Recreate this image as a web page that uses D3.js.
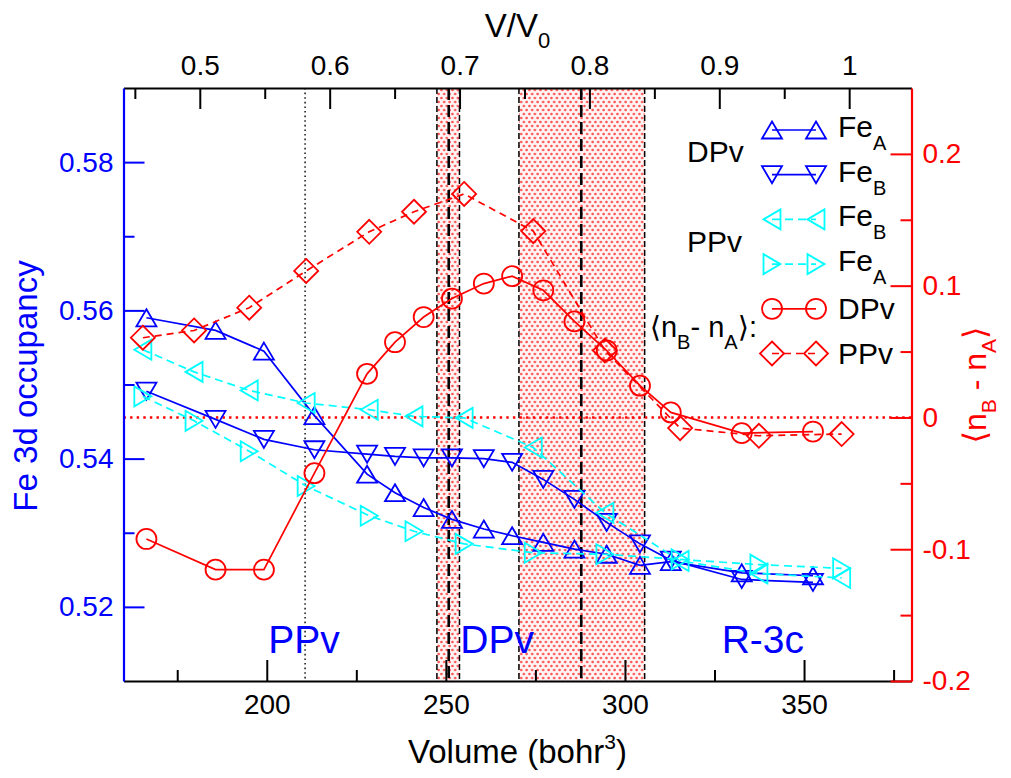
<!DOCTYPE html>
<html><head><meta charset="utf-8">
<script src="https://cdn.jsdelivr.net/npm/d3@7"></script>
<style>
body{margin:0;background:#fff;}
svg text{font-family:"Liberation Sans","DejaVu Sans",Arial,sans-serif;}
</style></head><body>
<svg id="c" width="1011" height="778"></svg>
<script>
// ---------------- data ----------------
const volDPv = [166.4,185.7,199.2,213.3,228.0,235.8,243.8,251.7,260.6,268.5,277.2,285.9,294.9,304.2,312.8,332.6,352.5];
const volPPv = [165.4,179.7,195.1,211.0,228.6,241.1,255.1,274.4,294.4,315.4,337.4,360.5];
const feA_DPv = [0.5590,0.5573,0.5545,0.5458,0.5379,0.5354,0.5334,0.5318,0.5305,0.5296,0.5287,0.5278,0.5271,0.5256,0.5261,0.5246,0.5242];
const feB_DPv = [0.5491,0.5453,0.5426,0.5412,0.5406,0.5403,0.5401,0.5401,0.5400,0.5395,0.5372,0.5345,0.5314,0.5285,0.5263,0.5237,0.5233];
const feB_PPv = [0.5547,0.5517,0.5492,0.5475,0.5466,0.5457,0.5455,0.5415,0.5327,0.5262,0.5245,0.5239];
const feA_PPv = [0.5484,0.5451,0.5410,0.5363,0.5323,0.5302,0.5285,0.5273,0.5271,0.5264,0.5257,0.5252];
const diff_DPv = [-0.0922,-0.1155,-0.1155,-0.0423,0.0331,0.0571,0.0762,0.0902,0.1016,0.1072,0.0965,0.0729,0.0508,0.0241,0.0038,-0.0119,-0.0107];
const diff_PPv = [0.0605,0.0660,0.0833,0.1112,0.1409,0.1561,0.1696,0.1414,0.0508,-0.0081,-0.0139,-0.0126];

const V0 = 362.6;
const xMajor = [200,250,300,350];
const xMinor = [175,225,275,325,375];
const topMajor = [0.5,0.6,0.7,0.8,0.9,1.0];
const topMinor = [0.45,0.55,0.65,0.75,0.85,0.95];
const yLMajor = [0.52,0.54,0.56,0.58];
const yLMinor = [0.53,0.55,0.57];
const yRMajor = [-0.2,-0.1,0,0.1,0.2];
const yRMinor = [-0.15,-0.05,0.05,0.15];

const shadedRegions = [[247.5,253.8],[270.4,305.5]];
const transitionVols = [250.8,287.8];
const ppvDottedVol = 210.7;
const phaseLabels = ["PPv","DPv","R-3c"];
const phaseLabelVols = [210.4,264.3,338.5];

const legendLabels = [["Fe","A"],["Fe","B"],["Fe","B"],["Fe","A"],["DPv",""],["PPv",""]];

// ---------------- setup ----------------
const svg = d3.select("#c");
const L=123.5, R=911.5, T=88, B=681;
const x = d3.scaleLinear().domain([160,380]).range([L,R]);
const xTop = d3.scaleLinear().domain([160/V0,380/V0]).range([L,R]);
const yL = d3.scaleLinear().domain([0.51,0.59]).range([B,T]);
const yR = d3.scaleLinear().domain([-0.2,0.25]).range([B,T]);

const BLUE="#0000ff", CYAN="#00ffff", RED="#ff0000";

const defs = svg.append("defs");
const pat = defs.append("pattern").attr("id","dots").attr("width",5.5).attr("height",8).attr("patternUnits","userSpaceOnUse");
pat.append("rect").attr("width",5.5).attr("height",8).attr("fill","#fff4f4");
pat.append("circle").attr("cx",1.4).attr("cy",2).attr("r",1.25).attr("fill","#ff4a4a");
pat.append("circle").attr("cx",4.15).attr("cy",6).attr("r",1.25).attr("fill","#ff4a4a");

// shaded regions
svg.append("g").selectAll("rect").data(shadedRegions).join("rect")
  .attr("x",d=>x(d[0])).attr("width",d=>x(d[1])-x(d[0]))
  .attr("y",T).attr("height",B-T).attr("fill","url(#dots)");
// boundaries
const bounds = shadedRegions.flat();
svg.append("g").selectAll("line").data(bounds).join("line")
  .attr("x1",d=>x(d)).attr("x2",d=>x(d)).attr("y1",T).attr("y2",B)
  .attr("stroke","#000").attr("stroke-width",1.5).attr("stroke-dasharray","6,3");
svg.append("g").selectAll("line").data(transitionVols).join("line")
  .attr("x1",d=>x(d)).attr("x2",d=>x(d)).attr("y1",T).attr("y2",B)
  .attr("stroke","#000").attr("stroke-width",2.6).attr("stroke-dasharray","12,5");
svg.append("line").attr("x1",x(ppvDottedVol)).attr("x2",x(ppvDottedVol)).attr("y1",T).attr("y2",B)
  .attr("stroke","#222").attr("stroke-width",1.6).attr("stroke-dasharray","1.6,3");
// zero line
svg.append("line").attr("x1",L).attr("x2",R).attr("y1",yR(0)).attr("y2",yR(0))
  .attr("stroke",RED).attr("stroke-width",2.4).attr("stroke-dasharray","2.4,4.2");

// marker shapes
function shape(t){
  switch(t){
    case "up": return "M0,-8.5L10,8.5L-10,8.5Z";
    case "down": return "M0,8.5L10,-8.5L-10,-8.5Z";
    case "left": return "M-8.5,0L8.5,-10L8.5,10Z";
    case "right": return "M8.5,0L-8.5,-10L-8.5,10Z";
    case "circle": return d3.symbol(d3.symbolCircle, Math.PI*100)();
    case "diamond": return "M0,-12L12,0L0,12L-12,0Z";
  }
}

const seriesDefs = [
  {vol:volDPv, vals:feA_DPv, y:yL, color:BLUE, dash:null, marker:"up"},
  {vol:volDPv, vals:feB_DPv, y:yL, color:BLUE, dash:null, marker:"down"},
  {vol:volPPv, vals:feB_PPv, y:yL, color:CYAN, dash:"8,5", marker:"left"},
  {vol:volPPv, vals:feA_PPv, y:yL, color:CYAN, dash:"8,5", marker:"right"},
  {vol:volDPv, vals:diff_DPv, y:yR, color:RED, dash:null, marker:"circle"},
  {vol:volPPv, vals:diff_PPv, y:yR, color:RED, dash:"7,5", marker:"diamond"}
];

const gData = svg.append("g");
seriesDefs.forEach(s=>{
  const pts = s.vol.map((v,i)=>[v,s.vals[i]]);
  const line = d3.line().x(d=>x(d[0])).y(d=>s.y(d[1]));
  gData.append("path").attr("d",line(pts)).attr("fill","none")
    .attr("stroke",s.color).attr("stroke-width",1.7)
    .attr("stroke-dasharray",s.dash);
  gData.append("g").selectAll("path").data(pts).join("path")
    .attr("d",shape(s.marker))
    .attr("transform",d=>`translate(${x(d[0])},${s.y(d[1])})`)
    .attr("fill","none").attr("stroke",s.color).attr("stroke-width",1.8);
});

// ---------------- axes ----------------
function styleAxis(g,color,fs){
  g.select(".domain").attr("stroke",color).attr("stroke-width",2.2);
  g.selectAll(".tick line").attr("stroke",color).attr("stroke-width",2);
  g.selectAll(".tick text").attr("fill",color).attr("font-size",fs)
    .attr("font-family","'Liberation Sans','DejaVu Sans',Arial,sans-serif");
}
function minor(axisFn, scale, vals, tr, color){
  const g = svg.append("g").attr("transform",tr)
    .call(axisFn(scale).tickValues(vals).tickSizeInner(-11).tickSizeOuter(0).tickFormat(""));
  g.select(".domain").remove();
  g.selectAll(".tick line").attr("stroke",color).attr("stroke-width",2);
}
minor(d3.axisBottom, x, xMinor, `translate(0,${B})`, "#000");
minor(d3.axisTop, xTop, topMinor, `translate(0,${T})`, "#000");
minor(d3.axisLeft, yL, yLMinor, `translate(${L},0)`, BLUE);
minor(d3.axisRight, yR, yRMinor, `translate(${R},0)`, RED);

const gB = svg.append("g").attr("transform",`translate(0,${B})`)
  .call(d3.axisBottom(x).tickValues(xMajor).tickSizeInner(-21).tickSizeOuter(0).tickPadding(13).tickFormat(d3.format("d")));
styleAxis(gB,"#000",28);
const gT = svg.append("g").attr("transform",`translate(0,${T})`)
  .call(d3.axisTop(xTop).tickValues(topMajor).tickSizeInner(-21).tickSizeOuter(0).tickPadding(13)
    .tickFormat(d=> Math.abs(d-1)<1e-9 ? "1" : d.toFixed(1)));
styleAxis(gT,"#000",28);
const gL = svg.append("g").attr("transform",`translate(${L},0)`)
  .call(d3.axisLeft(yL).tickValues(yLMajor).tickSizeInner(-21).tickSizeOuter(0).tickPadding(10).tickFormat(d=>d.toFixed(2)));
styleAxis(gL,BLUE,28);
const gR = svg.append("g").attr("transform",`translate(${R},0)`)
  .call(d3.axisRight(yR).tickValues(yRMajor).tickSizeInner(-21).tickSizeOuter(0).tickPadding(11)
    .tickFormat(d=> Math.abs(d)<1e-9 ? "0" : (d<0?"-":"")+Math.abs(d).toFixed(1)));
styleAxis(gR,RED,28);

// ---------------- titles ----------------
const tB = svg.append("text").attr("x",(L+R)/2).attr("y",763).attr("text-anchor","middle").attr("font-size",33).attr("fill","#000");
tB.append("tspan").text("Volume (bohr");
tB.append("tspan").text("3").attr("font-size",21).attr("dy",-14);
tB.append("tspan").text(")").attr("dy",14);

const tT = svg.append("text").attr("x",(L+R)/2).attr("y",37).attr("text-anchor","middle").attr("font-size",33).attr("fill","#000");
tT.append("tspan").text("V/V");
tT.append("tspan").text("0").attr("font-size",22).attr("dy",11);

svg.append("text").attr("transform","translate(37,386) rotate(-90)").attr("text-anchor","middle")
  .attr("font-size",33).attr("fill",BLUE).text("Fe 3d occupancy");

const tR = svg.append("text").attr("transform","translate(986,385) rotate(-90)").attr("text-anchor","middle")
  .attr("font-size",32).attr("fill",RED);
tR.append("tspan").text("\u27E8n");
tR.append("tspan").text("B").attr("font-size",21).attr("dy",10);
tR.append("tspan").text(" - n").attr("dy",-10);
tR.append("tspan").text("A").attr("font-size",21).attr("dy",10);
tR.append("tspan").text("\u27E9").attr("dy",-10);

// phase labels
svg.append("g").selectAll("text").data(phaseLabels).join("text")
  .attr("x",(d,i)=>x(phaseLabelVols[i])).attr("y",653).attr("text-anchor","middle")
  .attr("font-size",39).attr("fill",BLUE).text(d=>d);

// ---------------- legend ----------------
const lg = svg.append("g");
const rowY = i => 130 + i*44.7;
seriesDefs.forEach((s,i)=>{
  const yy = rowY(i);
  lg.append("line").attr("x1",772).attr("x2",816).attr("y1",yy).attr("y2",yy)
    .attr("stroke",s.color).attr("stroke-width",1.7).attr("stroke-dasharray",s.dash);
  [772,816].forEach(px=>{
    lg.append("path").attr("d",shape(s.marker)).attr("transform",`translate(${px},${yy})`)
      .attr("fill","none").attr("stroke",s.color).attr("stroke-width",1.8);
  });
  const lab = legendLabels[i];
  const t = lg.append("text").attr("x",838).attr("y",yy + (i<4?7:10)).attr("font-size",30).attr("fill","#000");
  t.append("tspan").text(lab[0]);
  if(lab[1]) t.append("tspan").text(lab[1]).attr("font-size",20).attr("dy",13);
});
lg.append("text").attr("x",687).attr("y",(rowY(0)+rowY(1))/2+10).attr("font-size",30).text("DPv");
lg.append("text").attr("x",687).attr("y",(rowY(2)+rowY(3))/2+10).attr("font-size",30).text("PPv");
const tn = lg.append("text").attr("x",757).attr("y",(rowY(4)+rowY(5))/2+6).attr("text-anchor","end").attr("font-size",29);
tn.append("tspan").text("\u27E8n");
tn.append("tspan").text("B").attr("font-size",20).attr("dy",12);
tn.append("tspan").text("- n").attr("dy",-12);
tn.append("tspan").text("A").attr("font-size",20).attr("dy",12);
tn.append("tspan").text("\u27E9:").attr("dy",-12);
</script>
</body></html>
